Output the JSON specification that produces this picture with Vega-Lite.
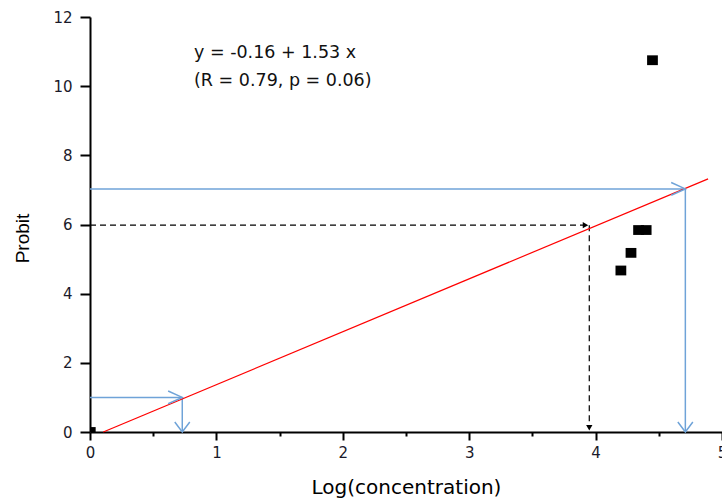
{
  "$schema": "https://vega.github.io/schema/vega-lite/v6.json",
  "width": 632,
  "height": 415,
  "autosize": "none",
  "padding": {"left": 90, "top": 17, "right": 0, "bottom": 66},
  "background": "white",
  "config": {
    "view": {"stroke": null},
    "axis": {
      "grid": false,
      "domainColor": "#000",
      "domainWidth": 2,
      "tickColor": "#000",
      "tickWidth": 2,
      "titleFont": "Liberation Sans",
      "titleFontSize": 19,
      "titleFontWeight": "normal",
      "titleColor": "#000"
    }
  },
  "datasets": {
    "points": [
      {"x": 4.20, "y": 4.67},
      {"x": 4.28, "y": 5.18},
      {"x": 4.34, "y": 5.84},
      {"x": 4.40, "y": 5.84},
      {"x": 4.45, "y": 10.75}
    ],
    "blue": [
      {"x": 0, "y": 1, "x2": 0.73, "y2": 1},
      {"x": 0.73, "y": 1, "x2": 0.73, "y2": 0},
      {"x": 0, "y": 7.03, "x2": 4.71, "y2": 7.03},
      {"x": 4.71, "y": 7.03, "x2": 4.71, "y2": 0}
    ],
    "dashed": [
      {"x": 0, "y": 5.98, "x2": 3.93, "y2": 5.98},
      {"x": 3.95, "y": 5.98, "x2": 3.95, "y2": 0.1}
    ],
    "fit": [
      {"x": 0.105, "y": 0, "x2": 4.89, "y2": 7.32}
    ],
    "blueRight": [{"x": 0.73, "y": 1}, {"x": 4.71, "y": 7.03}],
    "blueDown": [{"x": 0.73, "y": 0}, {"x": 4.71, "y": 0}],
    "eq": [
      {"x": 0.823, "y": 10.95, "t": "y = -0.16 + 1.53 x"},
      {"x": 0.823, "y": 10.16, "t": "(R = 0.79, p = 0.06)"}
    ]
  },
  "layer": [
    {
      "data": {"name": "blue"},
      "mark": {"type": "rule", "color": "#6fa3d8", "strokeWidth": 1.5},
      "encoding": {
        "x": {
          "field": "x", "type": "quantitative",
          "scale": {"domain": [0, 5], "nice": false, "zero": false},
          "axis": {
            "title": "Log(concentration)",
            "titleFont": "DejaVu Sans",
            "titleFontSize": 20,
            "titleY": 55,
            "titleBaseline": "middle",
            "values": [0, 0.5, 1, 1.5, 2, 2.5, 3, 3.5, 4, 4.5, 5],
            "labelExpr": "datum.value % 1 === 0 ? format(datum.value, 'd') : ''",
            "labelFont": "DejaVu Sans",
            "labelFontSize": 15,
            "labelColor": "#1a1a2a",
            "tickSize": {"condition": {"test": "datum.value % 1 === 0", "value": 8}, "value": 4},
            "labelPadding": 5,
            "labelFlush": false
          }
        },
        "x2": {"field": "x2"},
        "y": {
          "field": "y", "type": "quantitative",
          "scale": {"domain": [0, 12], "nice": false, "zero": false},
          "axis": {
            "title": "Probit",
            "titleX": -68,
            "titleY": 221,
            "titleBaseline": "middle",
            "values": [0, 1, 2, 3, 4, 5, 6, 7, 8, 9, 10, 11, 12],
            "labelExpr": "datum.value % 2 === 0 ? format(datum.value, 'd') : ''",
            "labelFont": "DejaVu Sans",
            "labelFontSize": 15,
            "labelColor": "#1a1a2a",
            "tickSize": {"condition": {"test": "datum.value % 2 === 0", "value": 10}, "value": 5},
            "labelPadding": 8,
            "labelFlush": false
          }
        },
        "y2": {"field": "y2"}
      }
    },
    {
      "data": {"name": "dashed"},
      "mark": {"type": "rule", "color": "#000", "strokeWidth": 1.2, "strokeDash": [6, 4]},
      "encoding": {
        "x": {"field": "x", "type": "quantitative"},
        "x2": {"field": "x2"},
        "y": {"field": "y", "type": "quantitative"},
        "y2": {"field": "y2"}
      }
    },
    {
      "data": {"name": "fit"},
      "mark": {"type": "rule", "color": "#ff0000", "strokeWidth": 1.2},
      "encoding": {
        "x": {"field": "x", "type": "quantitative"},
        "x2": {"field": "x2"},
        "y": {"field": "y", "type": "quantitative"},
        "y2": {"field": "y2"}
      }
    },
    {
      "data": {"name": "blueRight"},
      "mark": {"type": "point", "shape": "M-1,-0.45L0,0L-1,0.45", "filled": false, "stroke": "#6fa3d8", "strokeWidth": 1.5, "size": 800, "opacity": 1},
      "encoding": {
        "x": {"field": "x", "type": "quantitative"},
        "y": {"field": "y", "type": "quantitative"}
      }
    },
    {
      "data": {"name": "blueDown"},
      "mark": {"type": "point", "shape": "M-0.75,-1L0,0L0.75,-1", "filled": false, "stroke": "#6fa3d8", "strokeWidth": 1.5, "size": 400, "opacity": 1},
      "encoding": {
        "x": {"field": "x", "type": "quantitative"},
        "y": {"field": "y", "type": "quantitative"}
      }
    },
    {
      "data": {"values": [{"x": 3.92, "y": 5.98}]},
      "mark": {"type": "point", "shape": "triangle-right", "filled": true, "color": "#000", "size": 40, "opacity": 1},
      "encoding": {
        "x": {"field": "x", "type": "quantitative"},
        "y": {"field": "y", "type": "quantitative"}
      }
    },
    {
      "data": {"values": [{"x": 3.95, "y": 0.12}]},
      "mark": {"type": "point", "shape": "triangle-down", "filled": true, "color": "#000", "size": 40, "opacity": 1},
      "encoding": {
        "x": {"field": "x", "type": "quantitative"},
        "y": {"field": "y", "type": "quantitative"}
      }
    },
    {
      "data": {"values": [{"x": 0.025, "y": 0.07}]},
      "mark": {"type": "point", "shape": "square", "filled": true, "color": "#000", "size": 25, "opacity": 1},
      "encoding": {
        "x": {"field": "x", "type": "quantitative"},
        "y": {"field": "y", "type": "quantitative"}
      }
    },
    {
      "data": {"name": "points"},
      "mark": {"type": "point", "shape": "M-1.1,-1L1.1,-1L1.1,1L-1.1,1Z", "filled": true, "color": "#000", "size": 96, "opacity": 1},
      "encoding": {
        "x": {"field": "x", "type": "quantitative"},
        "y": {"field": "y", "type": "quantitative"}
      }
    },
    {
      "data": {"name": "eq"},
      "mark": {"type": "text", "align": "left", "baseline": "middle", "font": "DejaVu Sans", "fontSize": 17.5, "color": "#111"},
      "encoding": {
        "x": {"field": "x", "type": "quantitative"},
        "y": {"field": "y", "type": "quantitative"},
        "text": {"field": "t"}
      }
    }
  ]
}
